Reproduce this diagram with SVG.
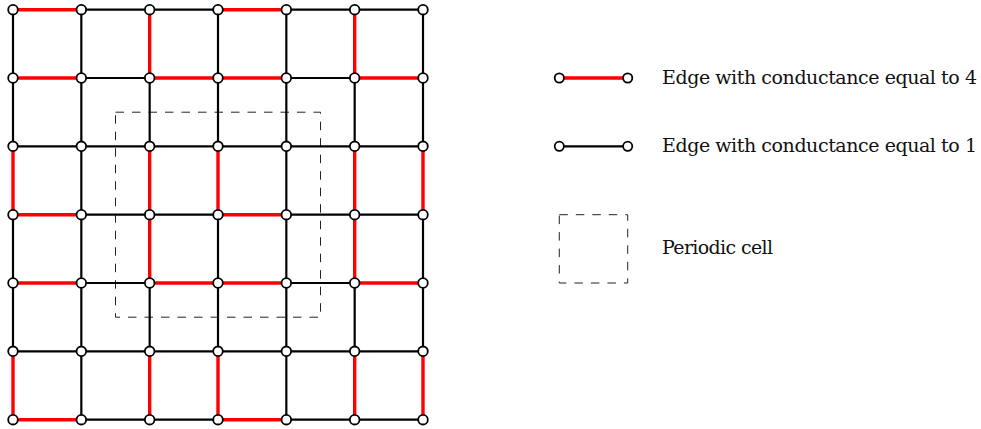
<svg xmlns="http://www.w3.org/2000/svg" width="981" height="429" viewBox="0 0 981 429">
<style>
.k{stroke:#000;stroke-width:2.2;stroke-linecap:butt}
.r{stroke:#ff0000;stroke-width:3.4;stroke-linecap:butt}
.nd{fill:#fff;stroke:#000;stroke-width:1.8}
.cell{fill:none;stroke:#222;stroke-width:1;stroke-dasharray:8.5 8}
text{font-family:"DejaVu Serif","Liberation Serif",serif;font-size:19px;fill:#111}
</style>
<rect width="981" height="429" fill="#fff"/>
<g id="periodic-cell">
<rect class="cell" x="115.5" y="112.2" width="205" height="205"/>
</g>
<g id="connectors">
<line class="r" x1="13" y1="9.7" x2="81.33" y2="9.7"/>
<line class="k" x1="81.33" y1="9.7" x2="149.67" y2="9.7"/>
<line class="k" x1="149.67" y1="9.7" x2="218" y2="9.7"/>
<line class="r" x1="218" y1="9.7" x2="286.33" y2="9.7"/>
<line class="k" x1="286.33" y1="9.7" x2="354.67" y2="9.7"/>
<line class="k" x1="354.67" y1="9.7" x2="423" y2="9.7"/>
<line class="r" x1="13" y1="78" x2="81.33" y2="78"/>
<line class="k" x1="81.33" y1="78" x2="149.67" y2="78"/>
<line class="r" x1="149.67" y1="78" x2="218" y2="78"/>
<line class="r" x1="218" y1="78" x2="286.33" y2="78"/>
<line class="k" x1="286.33" y1="78" x2="354.67" y2="78"/>
<line class="r" x1="354.67" y1="78" x2="423" y2="78"/>
<line class="k" x1="13" y1="146.3" x2="81.33" y2="146.3"/>
<line class="k" x1="81.33" y1="146.3" x2="149.67" y2="146.3"/>
<line class="k" x1="149.67" y1="146.3" x2="218" y2="146.3"/>
<line class="k" x1="218" y1="146.3" x2="286.33" y2="146.3"/>
<line class="k" x1="286.33" y1="146.3" x2="354.67" y2="146.3"/>
<line class="k" x1="354.67" y1="146.3" x2="423" y2="146.3"/>
<line class="r" x1="13" y1="214.7" x2="81.33" y2="214.7"/>
<line class="k" x1="81.33" y1="214.7" x2="149.67" y2="214.7"/>
<line class="k" x1="149.67" y1="214.7" x2="218" y2="214.7"/>
<line class="r" x1="218" y1="214.7" x2="286.33" y2="214.7"/>
<line class="k" x1="286.33" y1="214.7" x2="354.67" y2="214.7"/>
<line class="k" x1="354.67" y1="214.7" x2="423" y2="214.7"/>
<line class="r" x1="13" y1="283" x2="81.33" y2="283"/>
<line class="k" x1="81.33" y1="283" x2="149.67" y2="283"/>
<line class="r" x1="149.67" y1="283" x2="218" y2="283"/>
<line class="r" x1="218" y1="283" x2="286.33" y2="283"/>
<line class="k" x1="286.33" y1="283" x2="354.67" y2="283"/>
<line class="r" x1="354.67" y1="283" x2="423" y2="283"/>
<line class="k" x1="13" y1="351.3" x2="81.33" y2="351.3"/>
<line class="k" x1="81.33" y1="351.3" x2="149.67" y2="351.3"/>
<line class="k" x1="149.67" y1="351.3" x2="218" y2="351.3"/>
<line class="k" x1="218" y1="351.3" x2="286.33" y2="351.3"/>
<line class="k" x1="286.33" y1="351.3" x2="354.67" y2="351.3"/>
<line class="k" x1="354.67" y1="351.3" x2="423" y2="351.3"/>
<line class="r" x1="13" y1="419.7" x2="81.33" y2="419.7"/>
<line class="k" x1="81.33" y1="419.7" x2="149.67" y2="419.7"/>
<line class="k" x1="149.67" y1="419.7" x2="218" y2="419.7"/>
<line class="r" x1="218" y1="419.7" x2="286.33" y2="419.7"/>
<line class="k" x1="286.33" y1="419.7" x2="354.67" y2="419.7"/>
<line class="k" x1="354.67" y1="419.7" x2="423" y2="419.7"/>
<line class="k" x1="13" y1="9.7" x2="13" y2="78"/>
<line class="k" x1="81.33" y1="9.7" x2="81.33" y2="78"/>
<line class="r" x1="149.67" y1="9.7" x2="149.67" y2="78"/>
<line class="k" x1="218" y1="9.7" x2="218" y2="78"/>
<line class="k" x1="286.33" y1="9.7" x2="286.33" y2="78"/>
<line class="r" x1="354.67" y1="9.7" x2="354.67" y2="78"/>
<line class="k" x1="423" y1="9.7" x2="423" y2="78"/>
<line class="k" x1="13" y1="78" x2="13" y2="146.3"/>
<line class="k" x1="81.33" y1="78" x2="81.33" y2="146.3"/>
<line class="k" x1="149.67" y1="78" x2="149.67" y2="146.3"/>
<line class="k" x1="218" y1="78" x2="218" y2="146.3"/>
<line class="k" x1="286.33" y1="78" x2="286.33" y2="146.3"/>
<line class="k" x1="354.67" y1="78" x2="354.67" y2="146.3"/>
<line class="k" x1="423" y1="78" x2="423" y2="146.3"/>
<line class="r" x1="13" y1="146.3" x2="13" y2="214.7"/>
<line class="k" x1="81.33" y1="146.3" x2="81.33" y2="214.7"/>
<line class="r" x1="149.67" y1="146.3" x2="149.67" y2="214.7"/>
<line class="r" x1="218" y1="146.3" x2="218" y2="214.7"/>
<line class="k" x1="286.33" y1="146.3" x2="286.33" y2="214.7"/>
<line class="r" x1="354.67" y1="146.3" x2="354.67" y2="214.7"/>
<line class="r" x1="423" y1="146.3" x2="423" y2="214.7"/>
<line class="k" x1="13" y1="214.7" x2="13" y2="283"/>
<line class="k" x1="81.33" y1="214.7" x2="81.33" y2="283"/>
<line class="r" x1="149.67" y1="214.7" x2="149.67" y2="283"/>
<line class="k" x1="218" y1="214.7" x2="218" y2="283"/>
<line class="k" x1="286.33" y1="214.7" x2="286.33" y2="283"/>
<line class="r" x1="354.67" y1="214.7" x2="354.67" y2="283"/>
<line class="k" x1="423" y1="214.7" x2="423" y2="283"/>
<line class="k" x1="13" y1="283" x2="13" y2="351.3"/>
<line class="k" x1="81.33" y1="283" x2="81.33" y2="351.3"/>
<line class="k" x1="149.67" y1="283" x2="149.67" y2="351.3"/>
<line class="k" x1="218" y1="283" x2="218" y2="351.3"/>
<line class="k" x1="286.33" y1="283" x2="286.33" y2="351.3"/>
<line class="k" x1="354.67" y1="283" x2="354.67" y2="351.3"/>
<line class="k" x1="423" y1="283" x2="423" y2="351.3"/>
<line class="r" x1="13" y1="351.3" x2="13" y2="419.7"/>
<line class="k" x1="81.33" y1="351.3" x2="81.33" y2="419.7"/>
<line class="r" x1="149.67" y1="351.3" x2="149.67" y2="419.7"/>
<line class="r" x1="218" y1="351.3" x2="218" y2="419.7"/>
<line class="k" x1="286.33" y1="351.3" x2="286.33" y2="419.7"/>
<line class="r" x1="354.67" y1="351.3" x2="354.67" y2="419.7"/>
<line class="r" x1="423" y1="351.3" x2="423" y2="419.7"/>
<line class="r" x1="559.3" y1="78" x2="627.7" y2="78"/>
<line class="k" x1="559.3" y1="146.3" x2="627.7" y2="146.3"/>
</g>
<g id="nodes">
<g id="n00"><circle class="nd" cx="13" cy="9.7" r="4.8"/></g>
<g id="n01"><circle class="nd" cx="81.33" cy="9.7" r="4.8"/></g>
<g id="n02"><circle class="nd" cx="149.67" cy="9.7" r="4.8"/></g>
<g id="n03"><circle class="nd" cx="218" cy="9.7" r="4.8"/></g>
<g id="n04"><circle class="nd" cx="286.33" cy="9.7" r="4.8"/></g>
<g id="n05"><circle class="nd" cx="354.67" cy="9.7" r="4.8"/></g>
<g id="n06"><circle class="nd" cx="423" cy="9.7" r="4.8"/></g>
<g id="n10"><circle class="nd" cx="13" cy="78" r="4.8"/></g>
<g id="n11"><circle class="nd" cx="81.33" cy="78" r="4.8"/></g>
<g id="n12"><circle class="nd" cx="149.67" cy="78" r="4.8"/></g>
<g id="n13"><circle class="nd" cx="218" cy="78" r="4.8"/></g>
<g id="n14"><circle class="nd" cx="286.33" cy="78" r="4.8"/></g>
<g id="n15"><circle class="nd" cx="354.67" cy="78" r="4.8"/></g>
<g id="n16"><circle class="nd" cx="423" cy="78" r="4.8"/></g>
<g id="n20"><circle class="nd" cx="13" cy="146.3" r="4.8"/></g>
<g id="n21"><circle class="nd" cx="81.33" cy="146.3" r="4.8"/></g>
<g id="n22"><circle class="nd" cx="149.67" cy="146.3" r="4.8"/></g>
<g id="n23"><circle class="nd" cx="218" cy="146.3" r="4.8"/></g>
<g id="n24"><circle class="nd" cx="286.33" cy="146.3" r="4.8"/></g>
<g id="n25"><circle class="nd" cx="354.67" cy="146.3" r="4.8"/></g>
<g id="n26"><circle class="nd" cx="423" cy="146.3" r="4.8"/></g>
<g id="n30"><circle class="nd" cx="13" cy="214.7" r="4.8"/></g>
<g id="n31"><circle class="nd" cx="81.33" cy="214.7" r="4.8"/></g>
<g id="n32"><circle class="nd" cx="149.67" cy="214.7" r="4.8"/></g>
<g id="n33"><circle class="nd" cx="218" cy="214.7" r="4.8"/></g>
<g id="n34"><circle class="nd" cx="286.33" cy="214.7" r="4.8"/></g>
<g id="n35"><circle class="nd" cx="354.67" cy="214.7" r="4.8"/></g>
<g id="n36"><circle class="nd" cx="423" cy="214.7" r="4.8"/></g>
<g id="n40"><circle class="nd" cx="13" cy="283" r="4.8"/></g>
<g id="n41"><circle class="nd" cx="81.33" cy="283" r="4.8"/></g>
<g id="n42"><circle class="nd" cx="149.67" cy="283" r="4.8"/></g>
<g id="n43"><circle class="nd" cx="218" cy="283" r="4.8"/></g>
<g id="n44"><circle class="nd" cx="286.33" cy="283" r="4.8"/></g>
<g id="n45"><circle class="nd" cx="354.67" cy="283" r="4.8"/></g>
<g id="n46"><circle class="nd" cx="423" cy="283" r="4.8"/></g>
<g id="n50"><circle class="nd" cx="13" cy="351.3" r="4.8"/></g>
<g id="n51"><circle class="nd" cx="81.33" cy="351.3" r="4.8"/></g>
<g id="n52"><circle class="nd" cx="149.67" cy="351.3" r="4.8"/></g>
<g id="n53"><circle class="nd" cx="218" cy="351.3" r="4.8"/></g>
<g id="n54"><circle class="nd" cx="286.33" cy="351.3" r="4.8"/></g>
<g id="n55"><circle class="nd" cx="354.67" cy="351.3" r="4.8"/></g>
<g id="n56"><circle class="nd" cx="423" cy="351.3" r="4.8"/></g>
<g id="n60"><circle class="nd" cx="13" cy="419.7" r="4.8"/></g>
<g id="n61"><circle class="nd" cx="81.33" cy="419.7" r="4.8"/></g>
<g id="n62"><circle class="nd" cx="149.67" cy="419.7" r="4.8"/></g>
<g id="n63"><circle class="nd" cx="218" cy="419.7" r="4.8"/></g>
<g id="n64"><circle class="nd" cx="286.33" cy="419.7" r="4.8"/></g>
<g id="n65"><circle class="nd" cx="354.67" cy="419.7" r="4.8"/></g>
<g id="n66"><circle class="nd" cx="423" cy="419.7" r="4.8"/></g>
<g id="legend-red-a"><circle class="nd" cx="559.3" cy="78" r="4.6"/></g>
<g id="legend-red-b"><circle class="nd" cx="627.7" cy="78" r="4.6"/></g>
<g id="legend-black-a"><circle class="nd" cx="559.3" cy="146.3" r="4.6"/></g>
<g id="legend-black-b"><circle class="nd" cx="627.7" cy="146.3" r="4.6"/></g>
</g>
<g id="legend-cell">
<rect class="cell" x="559.3" y="214.7" width="68.4" height="68.3"/>
</g>
<g id="legend-text">
<text x="662" y="83.7" textLength="315">Edge with conductance equal to 4</text>
<text x="662" y="152" textLength="315">Edge with conductance equal to 1</text>
<text x="662" y="253.7" textLength="111">Periodic cell</text>
</g>
</svg>
